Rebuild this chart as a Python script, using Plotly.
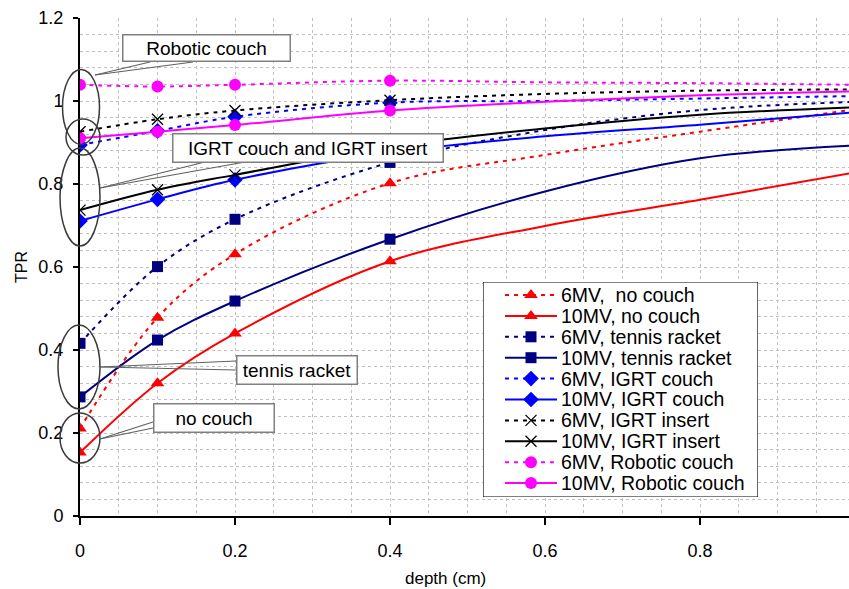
import plotly.graph_objects as go

# ---------------- data ----------------
depth_marked = [0, 0.1, 0.2, 0.4]
depth_line = [0, 0.1, 0.2, 0.4, 0.6, 0.8, 1.0]

series_names = [
    "6MV,  no couch", "10MV, no couch",
    "6MV, tennis racket", "10MV, tennis racket",
    "6MV, IGRT couch", "10MV, IGRT couch",
    "6MV, IGRT insert", "10MV, IGRT insert",
    "6MV, Robotic couch", "10MV, Robotic couch",
]

tpr_6mv_no_couch = [0.211, 0.478, 0.631, 0.802, 0.870, 0.926, 0.980]
tpr_10mv_no_couch = [0.153, 0.320, 0.440, 0.614, 0.699, 0.762, 0.828]
tpr_6mv_tennis = [0.416, 0.601, 0.715, 0.852, 0.930, 0.978, 0.998]
tpr_10mv_tennis = [0.287, 0.424, 0.518, 0.667, 0.782, 0.862, 0.893]
tpr_6mv_igrt_couch = [0.894, 0.928, 0.962, 0.996, 1.000, 1.006, 1.012]
tpr_10mv_igrt_couch = [0.711, 0.763, 0.810, 0.876, 0.915, 0.943, 0.973]
tpr_6mv_igrt_insert = [0.926, 0.956, 0.977, 1.002, 1.017, 1.025, 1.028]
tpr_10mv_igrt_insert = [0.737, 0.786, 0.822, 0.890, 0.934, 0.967, 0.985]
tpr_6mv_robotic = [1.039, 1.035, 1.039, 1.049, 1.045, 1.043, 1.039]
tpr_10mv_robotic = [0.910, 0.926, 0.942, 0.977, 0.998, 1.014, 1.023]

series_values = [
    tpr_6mv_no_couch, tpr_10mv_no_couch,
    tpr_6mv_tennis, tpr_10mv_tennis,
    tpr_6mv_igrt_couch, tpr_10mv_igrt_couch,
    tpr_6mv_igrt_insert, tpr_10mv_igrt_insert,
    tpr_6mv_robotic, tpr_10mv_robotic,
]

callout_labels = ["Robotic couch", "IGRT couch and IGRT insert", "tennis racket", "no couch"]
x_title = "depth (cm)"
y_title = "TPR"
x_tick_vals = [0, 0.2, 0.4, 0.6, 0.8, 1.0]
x_tick_text = ["0", "0.2", "0.4", "0.6", "0.8", "1"]
y_tick_vals = [0, 0.2, 0.4, 0.6, 0.8, 1.0, 1.2]
y_tick_text = ["0", "0.2", "0.4", "0.6", "0.8", "1", "1.2"]

# ---------------- styles ----------------
colors = ["#FF0000", "#FF0000", "#000080", "#000080", "#0000FF", "#0000FF",
          "#000000", "#000000", "#FF00FF", "#FF00FF"]
symbols = ["triangle-up", "triangle-up", "square", "square", "diamond", "diamond",
           "x-thin-open", "x-thin-open", "circle", "circle"]
msizes = [12, 12, 11, 11, 12, 12, 11, 11, 12, 12]
DOT = "4px,5px"
FONT = "Arial, Liberation Sans, sans-serif"

# plot area geometry in pixels (figure 849x589)
L, R, T, B = 80, 849, 18, 516
W_FIG, H_FIG = 849, 589


def fx(px):
    return (px - L) / (R - L)


def fy(py):
    return (B - py) / (B - T)


fig = go.Figure()

for i, (name, vals) in enumerate(zip(series_names, series_values)):
    is6 = name.startswith("6MV")
    line = dict(color=colors[i], width=2, dash=DOT if is6 else "solid", shape="spline")
    fig.add_trace(go.Scatter(x=depth_line, y=vals, mode="lines", line=line,
                             showlegend=False, hoverinfo="skip"))
    mk = dict(symbol=symbols[i], size=msizes[i], color=colors[i],
              line=dict(color=colors[i], width=1.3 if "x" in symbols[i] else 0))
    fig.add_trace(go.Scatter(x=depth_marked, y=vals[:len(depth_marked)], mode="markers",
                             marker=mk, name=name, showlegend=False))

# ---------------- custom legend (overlay axes in pixel units) ----------------
LG_L, LG_R, LG_T, LG_B = 483, 758, 282, 497
row0, row_step = 295, 20.9
for i, name in enumerate(series_names):
    is6 = name.startswith("6MV")
    yc = row0 + row_step * i
    fig.add_trace(go.Scatter(x=[505, 557], y=[yc, yc], mode="lines", xaxis="x2", yaxis="y2",
                             line=dict(color=colors[i], width=2, dash=DOT if is6 else "solid"),
                             showlegend=False, hoverinfo="skip"))
    mk = dict(symbol=symbols[i], size=msizes[i], color=colors[i],
              line=dict(color=colors[i], width=1.3 if "x" in symbols[i] else 0))
    fig.add_trace(go.Scatter(x=[531], y=[yc], mode="markers", xaxis="x2", yaxis="y2",
                             marker=mk, showlegend=False, hoverinfo="skip"))

annotations = []
for i, name in enumerate(series_names):
    yc = row0 + row_step * i
    annotations.append(dict(x=559, y=yc, xref="x2", yref="y2", text=name, showarrow=False,
                            xanchor="left", yanchor="middle",
                            font=dict(family=FONT, size=19.5, color="#000000")))

# x-axis title placed like the reference (centred at pixel x=445)
annotations.append(dict(x=fx(445), y=fy(578), xref="paper", yref="paper", text=x_title,
                        showarrow=False, xanchor="center", yanchor="middle",
                        font=dict(family=FONT, size=17, color="#000000")))

shapes = [
    dict(type="rect", xref="x2", yref="y2", x0=LG_L, x1=LG_R, y0=LG_T, y1=LG_B,
         line=dict(color="#000000", width=1.2), fillcolor="#FFFFFF", layer="below"),
]

# ---------------- callouts ----------------
# (label, box left, box right, box top, box bottom)
boxes = [
    (callout_labels[0], 122, 290, 35, 62),
    (callout_labels[1], 172, 443, 133, 162),
    (callout_labels[2], 236, 357, 355, 384),
    (callout_labels[3], 153, 274, 403, 432),
]
for text, x0, x1, y0, y1 in boxes:
    annotations.append(dict(x=fx((x0 + x1) / 2), y=fy((y0 + y1) / 2), xref="paper", yref="paper",
                            text=text, showarrow=False, xanchor="center", yanchor="middle",
                            width=x1 - x0 - 6, height=y1 - y0 - 6, borderpad=2,
                            bgcolor="#FFFFFF", bordercolor="#808080", borderwidth=1.5,
                            font=dict(family=FONT, size=19, color="#000000")))

# ellipses (cx, cy, rx, ry) in pixels
ellipses = [(81, 107, 18.5, 37.5), (83, 137, 17, 18), (80, 197, 20, 49),
            (79, 367, 21, 42), (80, 438, 20, 25)]
for cx, cy, rx, ry in ellipses:
    shapes.append(dict(type="circle", xref="paper", yref="paper",
                       x0=fx(cx - rx), x1=fx(cx + rx), y0=fy(cy + ry), y1=fy(cy - ry),
                       line=dict(color="#3a3a3a", width=1.5), layer="above"))

# leader wedges: apex -> two base points
leaders = [((95, 75), (150, 62), (193, 62)),
           ((100, 188), (205, 162), (245, 162)),
           ((100, 367), (236, 361), (236, 370)),
           ((100, 439), (153, 422), (153, 428))]
for apex, b1, b2 in leaders:
    for b in (b1, b2):
        shapes.append(dict(type="line", xref="paper", yref="paper",
                           x0=fx(apex[0]), y0=fy(apex[1]), x1=fx(b[0]), y1=fy(b[1]),
                           line=dict(color="#606060", width=1.2), layer="above"))

grid = dict(showgrid=True, gridcolor="#c0c0c0", gridwidth=1, griddash="3px,3px")

fig.update_layout(
    width=W_FIG, height=H_FIG,
    margin=dict(l=L, r=W_FIG - R, t=T, b=H_FIG - B),
    paper_bgcolor="#FFFFFF", plot_bgcolor="#FFFFFF",
    font=dict(family=FONT, color="#000000"),
    showlegend=False,
    xaxis=dict(range=[0, (R - L) / 775.0], tickvals=x_tick_vals, ticktext=x_tick_text,
               minor=dict(dtick=0.05, tick0=0, **grid), **grid,
               showline=True, linecolor="#000000", linewidth=2, zeroline=False,
               ticks="outside", ticklen=7, tickwidth=1.5, tickcolor="#000000",
               tickfont=dict(size=18), ticklabelstandoff=10),
    yaxis=dict(range=[0, 1.2], tickvals=y_tick_vals, ticktext=y_tick_text,
               minor=dict(dtick=0.04, tick0=0, **grid), **grid,
               showline=True, linecolor="#000000", linewidth=2, zeroline=False,
               ticks="outside", ticklen=5, tickwidth=1.5, tickcolor="#000000",
               tickfont=dict(size=18), ticklabelstandoff=6,
               title=dict(text=y_title, font=dict(size=16), standoff=7)),
    xaxis2=dict(domain=[fx(LG_L), fx(LG_R)], range=[LG_L, LG_R], anchor="y2",
                visible=False, fixedrange=True),
    yaxis2=dict(domain=[fy(LG_B), fy(LG_T)], range=[LG_B, LG_T], anchor="x2",
                visible=False, fixedrange=True),
    annotations=annotations,
    shapes=shapes,
)

fig.write_html("out.html", config={"displayModeBar": False},
               post_script="document.body.style.margin='0';document.body.style.overflow='hidden';")
